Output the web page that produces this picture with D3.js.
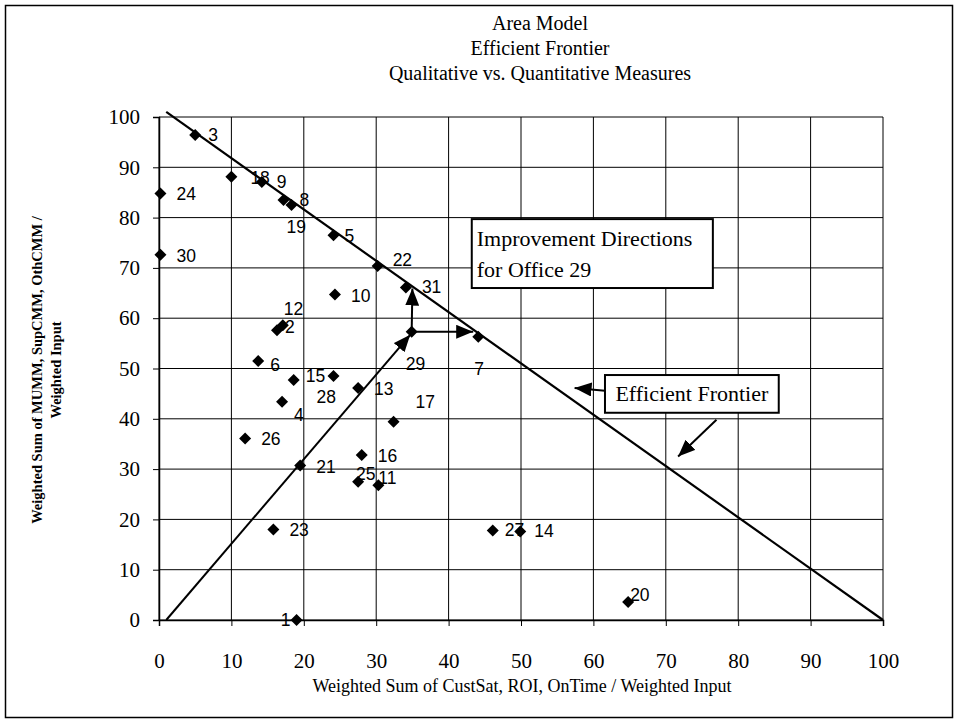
<!DOCTYPE html>
<html>
<head>
<meta charset="utf-8">
<script src="https://cdn.jsdelivr.net/npm/d3@7"></script>
<style>
  body { margin: 0; background: #fff; }
  svg text { fill: #000; }
  .serif { font-family: "Liberation Serif", "Times New Roman", serif; }
  .sans { font-family: "Liberation Sans", Arial, sans-serif; }
</style>
</head>
<body>
<div id="chart"></div>
<script>
// Data
const offices = [1, 2, 3, 4, 5, 6, 7, 8, 9, 10, 11, 12, 13, 14, 15, 16,
                 17, 18, 19, 20, 21, 22, 23, 24, 25, 26, 27, 28, 29, 30, 31];
const quantitative = [19.0, 16.3, 5.0, 17.0, 24.1, 13.7, 44.1, 18.3, 14.2, 24.3, 30.3, 17.1, 27.5, 49.9, 18.6, 28.0,
                      32.4, 10.0, 17.2, 64.8, 19.5, 30.2, 15.8, 0.2, 27.5, 11.9, 46.1, 24.1, 34.9, 0.2, 34.1];
const qualitative  = [0.0, 57.6, 96.4, 43.4, 76.5, 51.5, 56.3, 82.5, 87.1, 64.7, 26.8, 58.6, 46.1, 17.6, 47.7, 32.8,
                      39.4, 88.1, 83.5, 3.6, 30.7, 70.4, 18.0, 84.8, 27.5, 36.1, 17.8, 48.5, 57.3, 72.6, 66.1];
const xTicks = [0, 10, 20, 30, 40, 50, 60, 70, 80, 90, 100];
const yTicks = [0, 10, 20, 30, 40, 50, 60, 70, 80, 90, 100];
const frontierX = [1, 100];
const frontierY = [101, 0];
const titleLines = ["Area Model", "Efficient Frontier", "Qualitative vs. Quantitative Measures"];

// label placement tweaks (pixels from diamond) where Excel labels were dragged
const labelShift = {
  1: [-6, 6, "end"], 2: [8, 3], 3: [13, 6], 4: [12, 19], 5: [11, 7], 6: [12, 10],
  7: [-4, 38], 8: [8, 1], 9: [15, 6], 11: [0, -1], 12: [1, -10], 14: [14, 6],
  15: [12, 2], 17: [22, -14], 18: [19, 7], 19: [3, 33], 20: [2, -1],
  22: [15, 0], 25: [-2, -2], 27: [12, 6], 28: [-17, 27], 29: [-6, 38], 31: [16, 5]
};

const width = 960, height = 726;
const x = d3.scaleLinear().domain([0, 100]).range([159, 883]);
const y = d3.scaleLinear().domain([0, 100]).range([620, 117]);

const svg = d3.select("#chart").append("svg")
  .attr("width", width).attr("height", height);

// outer frame
svg.append("rect")
  .attr("x", 5.5).attr("y", 5.5).attr("width", 947).attr("height", 712)
  .attr("fill", "none").attr("stroke", "#000").attr("stroke-width", 1.5);

// arrow marker
const defs = svg.append("defs");
defs.append("marker")
  .attr("id", "head")
  .attr("markerUnits", "userSpaceOnUse")
  .attr("viewBox", "0 -7 17 14")
  .attr("refX", 17).attr("refY", 0)
  .attr("markerWidth", 17).attr("markerHeight", 14)
  .attr("orient", "auto")
  .append("path").attr("d", "M0,-7L17,0L0,7Z").attr("fill", "#000");

// titles
svg.append("g").attr("class", "serif")
  .selectAll("text").data(titleLines).join("text")
  .attr("x", 540).attr("y", (d, i) => 30 + i * 25)
  .attr("text-anchor", "middle").attr("font-size", 20)
  .text(d => d);

// gridlines
const grid = svg.append("g").attr("stroke", "#000").attr("stroke-width", 1);
grid.selectAll("line.v").data(xTicks).join("line").attr("class", "v")
  .attr("x1", d => x(d)).attr("x2", d => x(d))
  .attr("y1", y(0)).attr("y2", y(100));
grid.selectAll("line.h").data(yTicks).join("line").attr("class", "h")
  .attr("x1", x(0)).attr("x2", x(100))
  .attr("y1", d => y(d)).attr("y2", d => y(d));

// axes
const xAxis = svg.append("g")
  .attr("transform", `translate(0,${y(0)})`)
  .call(d3.axisBottom(x).tickValues(xTicks).tickSize(6).tickPadding(27).tickFormat(d3.format("d")));
const yAxis = svg.append("g")
  .attr("transform", `translate(${x(0)},0)`)
  .call(d3.axisLeft(y).tickValues(yTicks).tickSize(6).tickPadding(13).tickFormat(d3.format("d")));
[xAxis, yAxis].forEach(a => {
  a.select(".domain").attr("stroke", "#000").attr("stroke-width", 1.5);
  a.selectAll(".tick line").attr("stroke", "#000");
  a.selectAll(".tick text").attr("class", "serif").attr("font-size", 21).attr("fill", "#000");
});

// axis titles
svg.append("text").attr("class", "serif")
  .attr("x", 522).attr("y", 692).attr("text-anchor", "middle").attr("font-size", 18)
  .text("Weighted Sum of CustSat, ROI, OnTime / Weighted Input");
const yTitle = svg.append("text").attr("class", "serif")
  .attr("transform", "translate(0,370) rotate(-90)")
  .attr("text-anchor", "middle").attr("font-size", 14.5).attr("font-weight", "bold");
yTitle.append("tspan").attr("x", 0).attr("y", 42).text("Weighted Sum of MUMM, SupCMM, OthCMM /");
yTitle.append("tspan").attr("x", 0).attr("y", 61).text("Weighted Input");

// efficient frontier line
svg.append("line")
  .attr("x1", x(frontierX[0])).attr("y1", y(frontierY[0]))
  .attr("x2", x(frontierX[1])).attr("y2", y(frontierY[1]))
  .attr("stroke", "#000").attr("stroke-width", 2.2);

// improvement arrows for office 29
const i29 = offices.indexOf(29);
const p29 = [quantitative[i29], qualitative[i29]];
const arrows = [
  [[1, 0], [p29[0] - 0.2, p29[1] - 0.6]],
  [p29, [p29[0] + 0.1, 65.9]],
  [p29, [43.4, p29[1]]],
  [[61.6, 45.6], [57.4, 46.1]],
  [[77.0, 39.8], [71.7, 32.5]]
];
svg.append("g").selectAll("line").data(arrows).join("line")
  .attr("x1", d => x(d[0][0])).attr("y1", d => y(d[0][1]))
  .attr("x2", d => x(d[1][0])).attr("y2", d => y(d[1][1]))
  .attr("stroke", "#000").attr("stroke-width", 2)
  .attr("marker-end", "url(#head)");

// points
const pts = offices.map((o, i) => ({ id: o, qx: quantitative[i], qy: qualitative[i] }));
svg.append("g").selectAll("path").data(pts).join("path")
  .attr("d", d3.symbol(d3.symbolSquare, 72))
  .attr("transform", d => `translate(${x(d.qx)},${y(d.qy)}) rotate(45)`)
  .attr("fill", "#000");

svg.append("g").attr("class", "sans").selectAll("text").data(pts).join("text")
  .attr("x", d => x(d.qx) + (labelShift[d.id] ? labelShift[d.id][0] : 16))
  .attr("y", d => y(d.qy) + (labelShift[d.id] ? labelShift[d.id][1] : 7))
  .attr("text-anchor", d => (labelShift[d.id] && labelShift[d.id][2]) || "start")
  .attr("font-size", 17.5)
  .text(d => d.id);

// annotation boxes
const boxes = [
  { x0: 43.2, x1: 76.5, y0: 79.7, y1: 66.0, lines: ["Improvement Directions", "for Office 29"], anchor: "start" },
  { x0: 61.6, x1: 85.6, y0: 48.7, y1: 41.2, lines: ["Efficient Frontier"], anchor: "middle" }
];
const bg = svg.append("g").selectAll("g").data(boxes).join("g");
bg.append("rect")
  .attr("x", d => x(d.x0)).attr("y", d => y(d.y0))
  .attr("width", d => x(d.x1) - x(d.x0)).attr("height", d => y(d.y1) - y(d.y0))
  .attr("fill", "#fff").attr("stroke", "#000").attr("stroke-width", 2);
bg.each(function(d) {
  const g = d3.select(this);
  const left = x(d.x0), top = y(d.y0);
  const cx = (x(d.x0) + x(d.x1)) / 2;
  g.selectAll("text").data(d.lines).join("text")
    .attr("class", "serif")
    .attr("x", d.anchor === "middle" ? cx : left + 5)
    .attr("y", (t, i) => d.lines.length > 1 ? top + 27 + i * 31 : top + 26)
    .attr("text-anchor", d.anchor)
    .attr("font-size", 22)
    .text(t => t);
});
</script>
</body>
</html>
